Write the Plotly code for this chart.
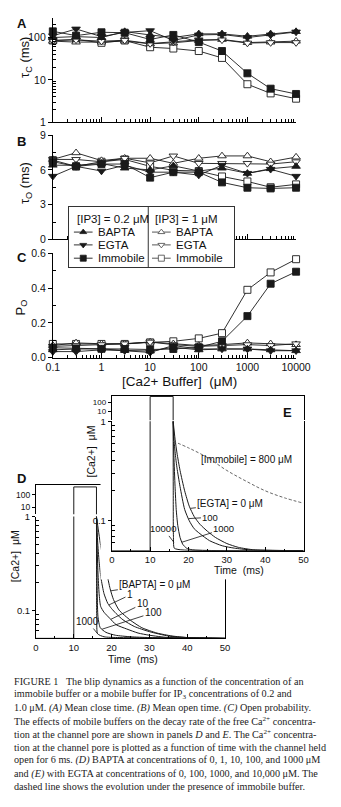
import numpy as np
import plotly.graph_objects as go

W, H = 341, 807

# ---------------- data ----------------
conc = [0.1, 0.3, 1, 3, 10, 30, 100, 300, 1000, 3000, 10000]
conc_ticks = [0.1, 1, 10, 100, 1000, 10000]
conc_ticktext = ["0.1", "1", "10", "100", "1000", "10000"]

# Panel A: mean close time (ms)
tauc_bapta_02 = [100, 105, 100, 138, 115, 100, 122, 122, 107, 122, 138]
tauc_egta_02 = [110, 159, 105, 132, 145, 85, 115, 118, 100, 115, 135]
tauc_immob_02 = [140, 111, 133, 130, 90, 115, 78, 48, 14.3, 6.2, 4.65]
tauc_bapta_1 = [82, 78, 78, 83, 71, 75, 85, 90, 76, 78, 82]
tauc_egta_1 = [85, 88, 82, 86, 72, 78, 88, 88, 74, 76, 76]
tauc_immob_1 = [85, 90, 75, 85, 59, 55, 48, 33, 7.9, 4.8, 3.6]

# Panel B: mean open time (ms)
tauo_bapta_02 = [6.4, 6.4, 6.55, 6.15, 6.0, 6.35, 5.9, 6.15, 5.7, 6.1, 6.3]
tauo_egta_02 = [5.45, 6.3, 5.9, 6.4, 5.8, 5.8, 5.55, 6.4, 5.7, 6.05, 5.45]
tauo_immob_02 = [6.7, 6.3, 6.5, 6.5, 5.33, 5.8, 5.8, 4.92, 4.46, 4.4, 4.46]
tauo_bapta_1 = [6.9, 7.47, 6.8, 7.0, 7.0, 6.56, 7.0, 7.2, 7.2, 6.7, 7.1]
tauo_egta_1 = [6.9, 6.9, 6.7, 7.0, 6.6, 7.2, 6.56, 6.56, 6.56, 6.5, 6.7]
tauo_immob_1 = [6.84, 6.3, 6.7, 6.9, 6.3, 5.96, 5.9, 5.43, 5.0, 4.5, 4.75]

# Panel C: open probability
po_bapta_02 = [0.045, 0.05, 0.05, 0.042, 0.038, 0.06, 0.045, 0.05, 0.05, 0.045, 0.04]
po_egta_02 = [0.035, 0.035, 0.045, 0.04, 0.03, 0.07, 0.05, 0.05, 0.05, 0.04, 0.04]
po_immob_02 = [0.057, 0.053, 0.051, 0.05, 0.047, 0.05, 0.06, 0.094, 0.239, 0.425, 0.494]
po_bapta_1 = [0.07, 0.085, 0.08, 0.08, 0.09, 0.08, 0.07, 0.075, 0.085, 0.08, 0.075]
po_egta_1 = [0.065, 0.07, 0.075, 0.08, 0.09, 0.075, 0.065, 0.07, 0.075, 0.07, 0.08]
po_immob_1 = [0.079, 0.079, 0.079, 0.079, 0.088, 0.094, 0.111, 0.141, 0.39, 0.49, 0.566]

# Panels D/E: channel open pulse (time ms, [Ca2+] uM)
pulse_t = [0, 10, 10, 16, 16]
pulse_ca = [0.05, 0.05, 400, 400, 1.0]

# Panel D: BAPTA
d_t_0 = [16, 16.5, 17, 17.5, 18, 18.7, 19.6, 20.5, 22, 25, 28, 32, 36, 40, 45, 50]
d_ca_0 = [1.0, 0.72, 0.52, 0.40, 0.32, 0.25, 0.17, 0.13, 0.10, 0.078, 0.065, 0.057, 0.053, 0.051, 0.0505, 0.05]
d_t_1 = [16, 16.3, 16.7, 17.2, 18, 19, 20, 21.2, 23, 26, 30, 35, 40, 50]
d_ca_1 = [1.0, 0.55, 0.33, 0.22, 0.15, 0.118, 0.104, 0.092, 0.079, 0.067, 0.059, 0.053, 0.051, 0.05]
d_t_10 = [16, 16.15, 16.4, 16.7, 17.1, 18, 19.5, 21.2, 24, 27, 30, 35, 50]
d_ca_10 = [1.0, 0.5, 0.25, 0.15, 0.11, 0.095, 0.082, 0.07, 0.063, 0.057, 0.054, 0.051, 0.05]
d_t_100 = [16, 16.08, 16.2, 16.4, 17, 18.5, 21, 25, 30, 50]
d_ca_100 = [1.0, 0.4, 0.15, 0.085, 0.065, 0.058, 0.054, 0.052, 0.051, 0.05]
d_t_1000 = [16, 16.03, 16.08, 16.3, 18, 22, 50]
d_ca_1000 = [1.0, 0.25, 0.08, 0.056, 0.052, 0.051, 0.05]

# Panel E: EGTA and immobile buffer
e_t_0 = [16, 16.5, 17, 17.8, 19, 20.2, 21.5, 23, 25, 27, 30, 33, 37, 42, 50]
e_ca_0 = [1.0, 0.66, 0.48, 0.32, 0.2, 0.14, 0.11, 0.092, 0.078, 0.068, 0.059, 0.054, 0.051, 0.0503, 0.05]
e_t_100 = [16, 16.3, 16.7, 17, 17.8, 19, 20.2, 21.5, 23, 25.5, 28.8, 32, 36, 50]
e_ca_100 = [1.0, 0.6, 0.42, 0.34, 0.22, 0.13, 0.1, 0.083, 0.074, 0.063, 0.056, 0.053, 0.051, 0.05]
e_t_1000 = [16, 16.2, 16.5, 16.8, 17.2, 17.8, 18.5, 19.5, 21, 50]
e_ca_1000 = [1.0, 0.45, 0.22, 0.13, 0.09, 0.068, 0.058, 0.053, 0.051, 0.05]
e_t_10000 = [16, 16.03, 16.08, 16.3, 18, 50]
e_ca_10000 = [1.0, 0.2, 0.07, 0.053, 0.051, 0.05]
e_t_immob = [16, 20, 25, 30, 35, 40, 45, 50]
e_ca_immob = [0.63, 0.54, 0.43, 0.32, 0.25, 0.2, 0.17, 0.15]

# ---------------- helpers ----------------
FONT = "Liberation Sans, Arial, Helvetica, sans-serif"
SERIF = "Liberation Serif, Times New Roman, serif"
INK = "#111111"
LINE = "#1a1a1a"


def dom_x(a, b):
    return [a / W, b / W]


def dom_y(top, bot):
    return [1 - bot / H, 1 - top / H]


def fx(p):
    return p / W


def fy(p):
    return 1 - p / H


def axis(**kw):
    base = dict(showline=True, linecolor="black", linewidth=1, showgrid=False,
                zeroline=False, ticks="", tickcolor="black", tickwidth=1,
                tickfont=dict(family=FONT, size=10.5, color=INK), fixedrange=True)
    base.update(kw)
    return base


fig = go.Figure()

series = [
    ("i1", "square", "white", 7),
    ("b1", "triangle-up", "white", 7.5),
    ("e1", "triangle-down", "white", 7.5),
    ("i02", "square", LINE, 7),
    ("b02", "triangle-up", LINE, 7.5),
    ("e02", "triangle-down", LINE, 7.5),
]
panel_data = {
    ("x", "y"): dict(i1=tauc_immob_1, b1=tauc_bapta_1, e1=tauc_egta_1,
                     i02=tauc_immob_02, b02=tauc_bapta_02, e02=tauc_egta_02),
    ("x2", "y2"): dict(i1=tauo_immob_1, b1=tauo_bapta_1, e1=tauo_egta_1,
                       i02=tauo_immob_02, b02=tauo_bapta_02, e02=tauo_egta_02),
    ("x3", "y3"): dict(i1=po_immob_1, b1=po_bapta_1, e1=po_egta_1,
                       i02=po_immob_02, b02=po_bapta_02, e02=po_egta_02),
}
for (xa, ya), d in panel_data.items():
    for key, sym, fill, size in series:
        fig.add_trace(go.Scatter(
            x=conc, y=d[key], mode="lines+markers", xaxis=xa, yaxis=ya,
            line=dict(color=LINE, width=0.9),
            marker=dict(symbol=sym, size=size, color=fill, line=dict(color=LINE, width=0.9)),
            cliponaxis=False, showlegend=False, hoverinfo="skip"))

# ---- legend box (its own subplot, opaque) ----
LX = [71.5, 91.5, 81.5]
RX = [155, 175, 165]
rows = [229.5, 242.5, 256]
fig.add_trace(go.Scatter(x=[151, 151], y=[204, 265], mode="lines", xaxis="x4", yaxis="y4",
                         line=dict(color="#333", width=1), showlegend=False, hoverinfo="skip"))
for (sym, fill), r in zip([("triangle-up", LINE), ("triangle-down", LINE), ("square", LINE)], rows):
    fig.add_trace(go.Scatter(x=LX[:2], y=[r, r], mode="lines", xaxis="x4", yaxis="y4",
                             line=dict(color=LINE, width=0.9), showlegend=False, hoverinfo="skip"))
    fig.add_trace(go.Scatter(x=[LX[2]], y=[r], mode="markers", xaxis="x4", yaxis="y4",
                             marker=dict(symbol=sym, size=6, color=fill, line=dict(color=LINE, width=0.8)),
                             showlegend=False, hoverinfo="skip"))
for sym, r in zip(["triangle-up", "triangle-down", "square"], rows):
    fig.add_trace(go.Scatter(x=RX[:2], y=[r, r], mode="lines", xaxis="x4", yaxis="y4",
                             line=dict(color="#444", width=0.9), showlegend=False, hoverinfo="skip"))
    fig.add_trace(go.Scatter(x=[RX[2]], y=[r], mode="markers", xaxis="x4", yaxis="y4",
                             marker=dict(symbol=sym, size=6, color="white", line=dict(color="#444", width=0.8)),
                             showlegend=False, hoverinfo="skip"))

# ---- panel D (BAPTA) ----
for xa, ya in [("x5", "y5"), ("x6", "y6")]:
    fig.add_trace(go.Scatter(x=pulse_t, y=pulse_ca, mode="lines", xaxis=xa, yaxis=ya,
                             line=dict(color=LINE, width=1), showlegend=False, hoverinfo="skip"))
for t, c in [(d_t_0, d_ca_0), (d_t_1, d_ca_1), (d_t_10, d_ca_10), (d_t_100, d_ca_100), (d_t_1000, d_ca_1000)]:
    fig.add_trace(go.Scatter(x=t, y=c, mode="lines", xaxis="x5", yaxis="y5",
                             line=dict(color=LINE, width=1, shape="spline", smoothing=0.6),
                             showlegend=False, hoverinfo="skip"))

# ---- mask that hides panel D under panel E ----
fig.add_trace(go.Scatter(x=[0.5], y=[0.5], mode="markers", xaxis="x7", yaxis="y7",
                         marker=dict(opacity=0), showlegend=False, hoverinfo="skip"))

# ---- panel E (EGTA) ----
for xa, ya in [("x8", "y8"), ("x9", "y9")]:
    fig.add_trace(go.Scatter(x=pulse_t, y=pulse_ca, mode="lines", xaxis=xa, yaxis=ya,
                             line=dict(color=LINE, width=1), showlegend=False, hoverinfo="skip"))
for t, c in [(e_t_0, e_ca_0), (e_t_100, e_ca_100), (e_t_1000, e_ca_1000), (e_t_10000, e_ca_10000)]:
    fig.add_trace(go.Scatter(x=t, y=c, mode="lines", xaxis="x8", yaxis="y8",
                             line=dict(color=LINE, width=1, shape="spline", smoothing=0.6),
                             showlegend=False, hoverinfo="skip"))
fig.add_trace(go.Scatter(x=e_t_immob, y=e_ca_immob, mode="lines", xaxis="x8", yaxis="y8",
                         line=dict(color="#555", width=0.9, dash="3px,2px", shape="spline"),
                         showlegend=False, hoverinfo="skip"))

# ---------------- axes ----------------
minor_x = [m * 10.0 ** k for k in range(-1, 4) for m in range(2, 10)]
minor_ya = [m * 10.0 ** k for k in range(0, 3) for m in range(2, 10) if m * 10.0 ** k < 290]
minor_d = [0.06, 0.07, 0.08, 0.09] + [m / 10 for m in range(2, 10)]
tfs = dict(family=FONT, size=9.5, color=INK)
tfs_up = dict(family=FONT, size=8.5, color=INK)
tfs_upe = dict(family=FONT, size=8, color=INK)

xcommon = dict(domain=dom_x(49, 309), type="log", range=[-1, 4], ticks="inside", ticklen=5,
               tickvals=conc_ticks, ticktext=conc_ticktext,
               minor=dict(tickmode="array", tickvals=minor_x, ticks="inside", ticklen=3,
                          tickcolor="black", showgrid=False))

fig.update_layout(
    xaxis=axis(anchor="y", showticklabels=False, **xcommon),
    yaxis=axis(domain=dom_y(12, 118), type="log", range=[0, 2.465], anchor="x",
               ticks="outside", ticklen=4, tickvals=[1, 10, 100], ticktext=["1", "10", "100"],
               minor=dict(tickmode="array", tickvals=minor_ya, ticks="inside", ticklen=3,
                          tickcolor="black", showgrid=False)),
    xaxis2=axis(anchor="y2", showticklabels=False, **xcommon),
    yaxis2=axis(domain=dom_y(131, 237), range=[0, 9], anchor="x2", ticks="outside", ticklen=4,
                tickvals=[0, 3, 6, 9], ticktext=["0", "3", "6", "9"],
                minor=dict(tickmode="array", tickvals=[1.5, 4.5, 7.5], ticks="inside", ticklen=3,
                           tickcolor="black", showgrid=False)),
    xaxis3=axis(anchor="y3", showticklabels=True, **xcommon),
    yaxis3=axis(domain=dom_y(251, 357), range=[0, 0.6], anchor="x3", ticks="outside", ticklen=4,
                tickvals=[0, 0.2, 0.4, 0.6], ticktext=["0.0", "0.2", "0.4", "0.6"],
                minor=dict(tickmode="array", tickvals=[0.1, 0.3, 0.5], ticks="inside", ticklen=3,
                           tickcolor="black", showgrid=False)),
    # legend box
    xaxis4=axis(domain=dom_x(66, 243), range=[66, 243], anchor="y4", mirror=True,
                showticklabels=False, linecolor="#333"),
    yaxis4=axis(domain=dom_y(204, 265), range=[265, 204], anchor="x4", mirror=True,
                showticklabels=False, linecolor="#333"),
    # panel D lower / upper
    xaxis5=axis(domain=dom_x(31, 233), range=[0, 50], anchor="y5", ticks="inside", ticklen=4,
                tickvals=[0, 10, 20, 30, 40, 50], ticktext=["0", "10", "20", "30", "40", "50"],
                tickfont=tfs,
                minor=dict(tickmode="array", tickvals=[5, 15, 25, 35, 45], ticks="inside",
                           ticklen=2, tickcolor="black", showgrid=False)),
    yaxis5=axis(domain=dom_y(518.3, 642), type="log", range=[-1.302, 0], anchor="x5", mirror=True,
                ticks="outside", ticklen=3, tickvals=[0.1, 1], ticktext=["0.1", "1"], tickfont=tfs,
                minor=dict(tickmode="array", tickvals=minor_d, ticks="inside", ticklen=3,
                           tickcolor="black", showgrid=False)),
    xaxis6=axis(domain=dom_x(31, 233), range=[0, 50], anchor="y6", side="top",
                showticklabels=False),
    yaxis6=axis(domain=dom_y(486, 516), type="log", range=[0.46, 2.77], anchor="x6", mirror=True,
                ticks="outside", ticklen=3, tickvals=[10, 100], ticktext=["10", "100"], tickfont=tfs_up),
    # mask
    xaxis7=dict(domain=dom_x(100, 341), range=[0, 1], anchor="y7", visible=False, fixedrange=True),
    yaxis7=dict(domain=dom_y(380, 582), range=[0, 1], anchor="x7", visible=False, fixedrange=True),
    # panel E lower / upper
    xaxis8=axis(domain=dom_x(112, 317), range=[0, 50], anchor="y8", ticks="inside", ticklen=4,
                tickvals=[0, 10, 20, 30, 40, 50], ticktext=["0", "10", "20", "30", "40", "50"],
                tickfont=tfs,
                minor=dict(tickmode="array", tickvals=[5, 15, 25, 35, 45], ticks="inside",
                           ticklen=2, tickcolor="black", showgrid=False)),
    yaxis8=axis(domain=dom_y(421.5, 553), type="log", range=[-1.302, 0], anchor="x8", mirror=True,
                ticks="outside", ticklen=3, tickvals=[0.1, 1], ticktext=["0.1", "1"], tickfont=tfs,
                minor=dict(tickmode="array", tickvals=minor_d, ticks="inside", ticklen=3,
                           tickcolor="black", showgrid=False)),
    xaxis9=axis(domain=dom_x(112, 317), range=[0, 50], anchor="y9", side="top",
                showticklabels=False),
    yaxis9=axis(domain=dom_y(396, 420.5), type="log", range=[0.053, 2.64], anchor="x9", mirror=True,
                ticks="outside", ticklen=3, tickvals=[10, 100], ticktext=["10", "100"], tickfont=tfs_upe),
)

# ---------------- annotations ----------------
ann = []


def text(x, y, s, size=11, angle=0, xanchor="center", bold=False, family=FONT, color=INK):
    if bold:
        s = "<b>" + s + "</b>"
    ann.append(dict(x=fx(x), y=fy(y), xref="paper", yref="paper", text=s, showarrow=False,
                    textangle=angle, xanchor=xanchor, yanchor="middle",
                    font=dict(family=family, size=size, color=color)))


for letter, x, y in [("A", 16, 18), ("B", 16, 138), ("C", 16, 255), ("D", 16, 480), ("E", 300, 413)]:
    text(x, y, letter, size=13, bold=True)

text(20, 52, "τ<sub>C</sub> (ms)", size=13, angle=-90)
text(20, 180, "τ<sub>O</sub> (ms)", size=13, angle=-90)
text(15, 306, "P<sub>O</sub>", size=13, angle=-90)
text(184, 381, "[Ca2+ Buffer]  (μM)", size=13.5)

# legend text
text(73, 216, "[IP3] = 0.2 μM", size=11.5, xanchor="left")
text(156.5, 216, "[IP3] = 1 μM", size=11.5, xanchor="left")
for r, lab in zip(rows, ["BAPTA", "EGTA", "Immobile"]):
    text(95, r, lab, size=11.5, xanchor="left")
    text(178, r, lab, size=11.5, xanchor="left")

# D / E axis titles
text(8, 558, "[Ca2+]  μM", size=10.5, angle=-90)
text(135, 663, "Time  (ms)", size=10.5)
text(90, 452, "[Ca2+]  μM", size=10.5, angle=-90)
text(248, 573, "Time  (ms)", size=10.5)
text(256, 460, "[Immobile] = 800 μM", size=10)


# pointer labels anchored on the curves
def d_px(t):
    return 31 + t * (233 - 31) / 50


def d_py(v):
    return 642 - (np.log10(v) + 1.302) * (642 - 518.3) / 1.302


def e_px(t):
    return 112 + t * (317 - 112) / 50


def e_py(v):
    return 553 - (np.log10(v) + 1.302) * (553 - 421.5) / 1.302


def pointer(xa, ya, t_arr, c_arr, ttip, cx, cy, label, pxf, pyf, size=10):
    v = float(np.interp(ttip, t_arr, c_arr))
    ann.append(dict(x=ttip, y=float(np.log10(v)), xref=xa, yref=ya, text=label,
                    showarrow=True, arrowhead=0, arrowwidth=0.8, arrowcolor=INK, standoff=0,
                    ax=cx - pxf(ttip), ay=cy - pyf(v),
                    font=dict(family=FONT, size=size, color=INK)))


pointer("x5", "y5", d_t_0, d_ca_0, 19.8, 155, 587, "[BAPTA] = 0 μM", d_px, d_py)
pointer("x5", "y5", d_t_1, d_ca_1, 19.3, 130, 598, "1", d_px, d_py)
pointer("x5", "y5", d_t_10, d_ca_10, 19.8, 143, 607, "10", d_px, d_py)
pointer("x5", "y5", d_t_100, d_ca_100, 17.5, 153, 616, "100", d_px, d_py)
pointer("x5", "y5", d_t_1000, d_ca_1000, 16.3, 87, 625, "1000", d_px, d_py)

pointer("x8", "y8", e_t_0, e_ca_0, 20.5, 236, 505, "[EGTA] = 0 μM", e_px, e_py)
pointer("x8", "y8", e_t_100, e_ca_100, 20.0, 216, 519, "100", e_px, e_py, size=9.5)
pointer("x8", "y8", e_t_1000, e_ca_1000, 18.3, 229, 531, "1000", e_px, e_py, size=9.5)
pointer("x8", "y8", e_t_10000, e_ca_10000, 16.2, 168, 531, "10000", e_px, e_py, size=9.5)

# caption
caption = [
    "FIGURE 1   The blip dynamics as a function of the concentration of an",
    "immobile buffer or a mobile buffer for IP<sub>3</sub> concentrations of 0.2 and",
    "1.0 μM. <i>(A)</i> Mean close time. <i>(B)</i> Mean open time. <i>(C)</i> Open probability.",
    "The effects of mobile buffers on the decay rate of the free Ca<sup>2+</sup> concentra-",
    "tion at the channel pore are shown in panels <i>D</i> and <i>E</i>. The Ca<sup>2+</sup> concentra-",
    "tion at the channel pore is plotted as a function of time with the channel held",
    "open for 6 ms. <i>(D)</i> BAPTA at concentrations of 0, 1, 10, 100, and 1000 μM",
    "and <i>(E)</i> with EGTA at concentrations of 0, 100, 1000, and 10,000 μM. The",
    "dashed line shows the evolution under the presence of immobile buffer.",
]
for i, line in enumerate(caption):
    text(5, 686 + i * 13.3, line, size=10.2, xanchor="left", family=SERIF, color="#222")

fig.update_layout(
    width=W, height=H, autosize=False,
    margin=dict(l=0, r=0, t=0, b=0, pad=0),
    paper_bgcolor="white", plot_bgcolor="white",
    showlegend=False, annotations=ann,
)

fig.write_html("out.html", config={"displayModeBar": False})
